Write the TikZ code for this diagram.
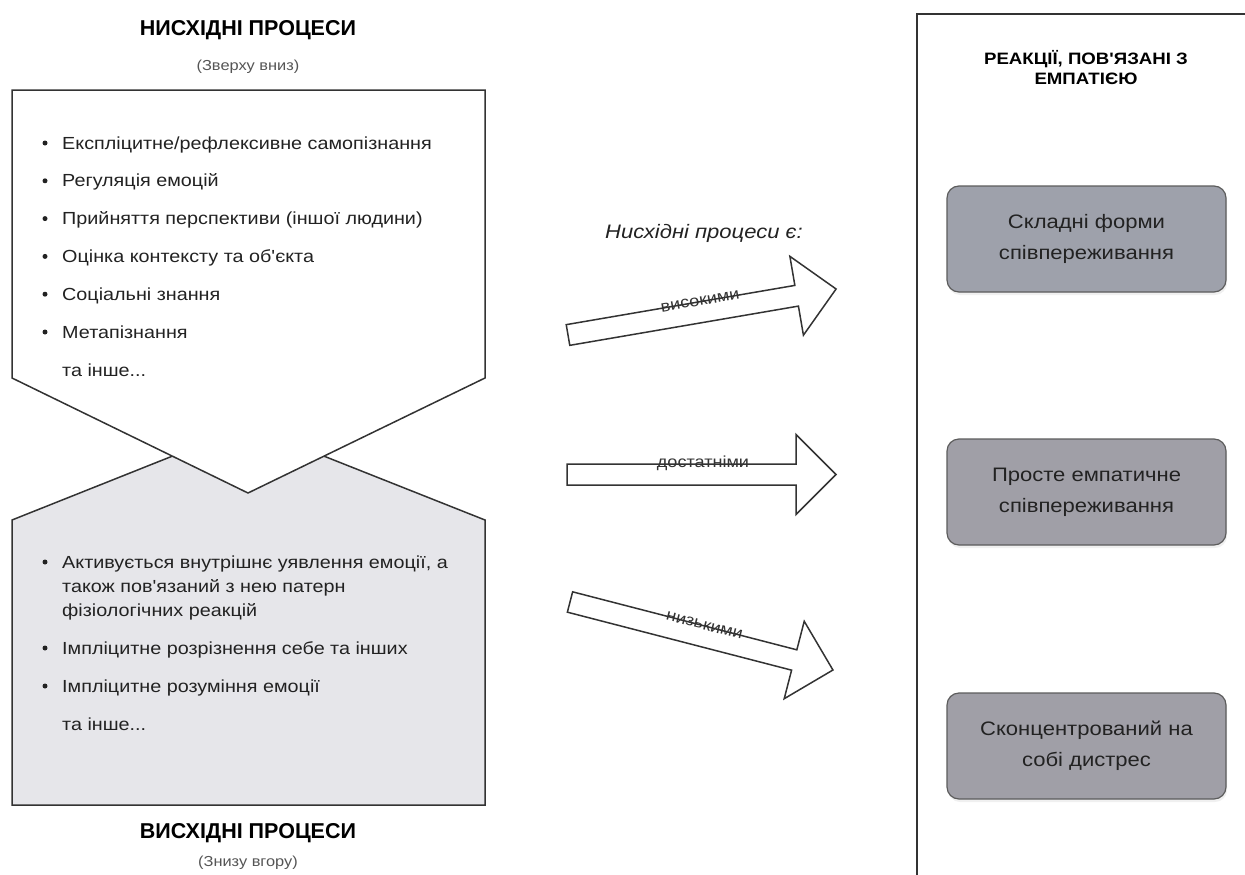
\documentclass[tikz,border=0pt]{standalone}
\usepackage{fontspec}
\setmainfont{Liberation Sans}
\newfontfamily\widefont{Liberation Sans}[FakeStretch=1.13]
\usetikzlibrary{shadows}
\definecolor{outline}{RGB}{51,51,51}
\definecolor{bottomup}{RGB}{230,230,234}
\definecolor{responsea}{RGB}{158,161,171}
\definecolor{responseb}{RGB}{160,159,167}
\definecolor{inktext}{RGB}{34,34,34}
\definecolor{subtext}{RGB}{85,85,85}

\begin{document}
\begin{tikzpicture}[x=1pt, y=-1pt,
    shapeline/.style={draw=outline, line width=1.5pt, line join=miter},
    heading/.style={font=\fontsize{21.5}{25}\selectfont\bfseries, text=black},
    subheading/.style={font=\widefont\fontsize{14.5}{17}\selectfont, text=subtext},
    listitem/.style={anchor=base west, inner sep=0pt, font=\widefont\fontsize{17.5}{24}\selectfont, text=inktext},
    bulletdot/.style={circle, fill=inktext, inner sep=0pt, minimum size=5pt},
    fatarrow/.style={draw=outline, line width=1.5pt, fill=white, line join=miter},
    arrowlabel/.style={font=\widefont\fontsize{16}{18}\selectfont, text=outline, inner sep=0pt},
    response/.style={draw=outline!80, line width=1.2pt, rounded corners=12pt,
        minimum width=279pt, minimum height=106pt, align=center,
        font=\widefont\fontsize{19.5}{31}\selectfont, text=inktext,
        drop shadow={opacity=0.12, shadow xshift=1pt, shadow yshift=-3pt}}]
    \useasboundingbox (0,0) rectangle (1245,875);

    % right panel, runs off the page
    \begin{scope}
        \clip (0,0) rectangle (1245,875);
        \draw[outline, line width=1.2pt] (917,14) rectangle (1265,895);
    \end{scope}

    % the two process shapes
    \draw[shapeline, fill=bottomup] (12,520) -- (248,426) -- (485,520) -- (485,805) -- (12,805) -- cycle;
    \draw[shapeline, fill=white] (12,90) -- (485,90) -- (485,378) -- (248,493) -- (12,378) -- cycle;

    \node[heading] (topdown) at (248,30) {НИСХІДНІ ПРОЦЕСИ};
    \node[subheading] (topdownsub) at (248,67) {(Зверху вниз)};
    \node[heading] (bottomuphead) at (248,833) {ВИСХІДНІ ПРОЦЕСИ};
    \node[subheading] (bottomupsub) at (248,863) {(Знизу вгору)};

    % top-down list
    \foreach \txt [count=\i] in {Експліцитне/рефлексивне самопізнання, Регуляція емоцій,
            Прийняття перспективи (іншої людини), Оцінка контексту та об'єкта,
            Соціальні знання, Метапізнання} {
        \node[listitem] (td\i) at (62,{111.2+37.8*\i}) {\txt};
        \node[bulletdot] (tdb\i) at (45,{105.2+37.8*\i}) {};
    }
    \node[listitem] (tdmore) at (62,376) {та інше...};

    % bottom-up list
    \node[listitem] (bu1) at (62,568) {Активується внутрішнє уявлення емоції, а};
    \node[listitem] (bu1b) at (62,592) {також пов'язаний з нею патерн};
    \node[listitem] (bu1c) at (62,616) {фізіологічних реакцій};
    \node[listitem] (bu2) at (62,654) {Імпліцитне розрізнення себе та інших};
    \node[listitem] (bu3) at (62,692) {Імпліцитне розуміння емоції};
    \node[listitem] (bumore) at (62,730) {та інше...};
    \foreach \by [count=\i] in {562,648,686}
        \node[bulletdot] (bub\i) at (45,\by) {};

    % middle: the three big arrows
    \node[font=\widefont\fontsize{19.5}{22}\selectfont\itshape, text=inktext] (question) at (704,233) {Нисхідні процеси є:};
    \foreach \tx/\ty/\ang/\len/\lbl [count=\k] in {568/335/9.74/272/високими,
            567/474.5/0/269/достатніми, 570/602/-14.5/271.6/низькими} {
        \begin{scope}[shift={(\tx,\ty)}, rotate=\ang]
            \draw[fatarrow] (0,-10.5) -- ({\len-40},-10.5) -- ({\len-40},-40) -- (\len,0)
                -- ({\len-40},40) -- ({\len-40},10.5) -- (0,10.5) -- cycle;
            \node[arrowlabel, rotate=\ang] (level\k) at (136,-11) {\lbl};
        \end{scope}
    }

    % responses
    \node[font=\widefont\fontsize{16.5}{17.5}\selectfont\bfseries, align=center, text=black] (responses) at (1086,68)
        {РЕАКЦІЇ, ПОВ'ЯЗАНІ З\\[2.5pt]ЕМПАТІЄЮ};
    \node[response, fill=responsea] (complex) at (1086.5,239) {Складні форми\\співпереживання};
    \node[response, fill=responseb] (simple) at (1086.5,492) {Просте емпатичне\\співпереживання};
    \node[response, fill=responseb] (distress) at (1086.5,746) {Сконцентрований на\\собі дистрес};
\end{tikzpicture}
\end{document}
